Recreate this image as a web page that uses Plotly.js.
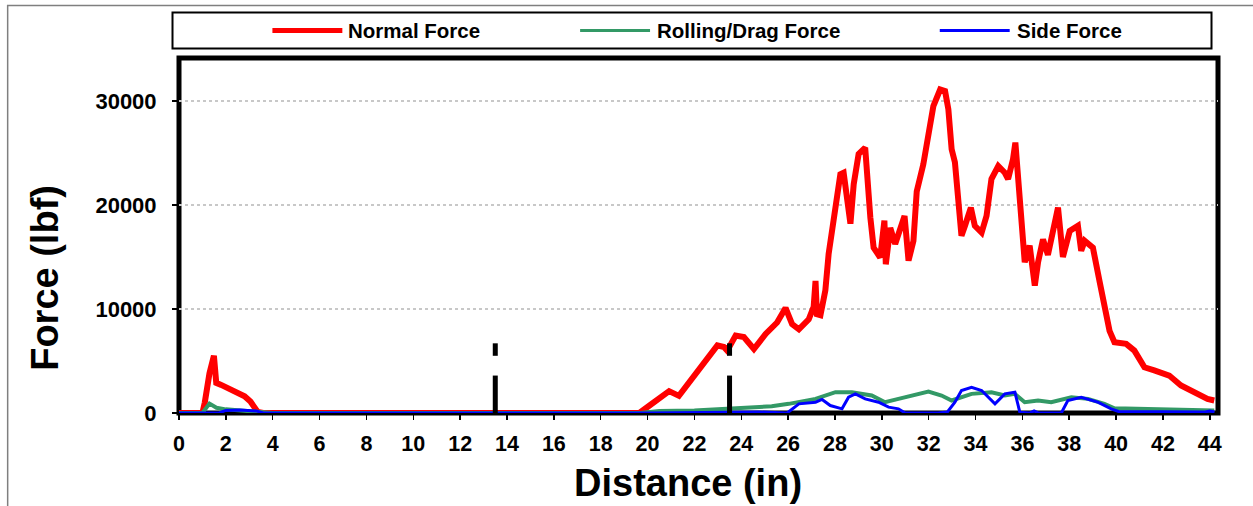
<!DOCTYPE html>
<html>
<head>
<meta charset="utf-8">
<script src="https://cdn.plot.ly/plotly-3.0.1.min.js"></script>
<style>html,body{margin:0;padding:0;background:#fff;}#chart{width:1253px;height:506px;}</style>
</head>
<body>
<div id="chart"></div>
<script>
// ---- data ----
const seriesNames = ["Normal Force", "Rolling/Drag Force", "Side Force"];
const xTitle = "Distance (in)";
const yTitle = "Force (lbf)";

const normalX = [0, 1.0, 1.1, 1.3, 1.49, 1.59, 1.8, 2.1, 2.48, 2.8, 3.05, 3.2, 3.36, 3.6, 19.65, 20.07, 20.5, 20.92, 21.34, 21.77, 22.19, 22.62, 22.98, 23.26, 23.4, 23.76, 24.11, 24.54, 25.04, 25.53, 25.89, 26.17, 26.46, 26.88, 27.02, 27.09, 27.17, 27.23, 27.38, 27.59, 27.73, 27.87, 28.02, 28.23, 28.37, 28.51, 28.66, 28.8, 29.01, 29.29, 29.36, 29.51, 29.65, 29.93, 30.11, 30.17, 30.36, 30.57, 30.97, 31.14, 31.35, 31.49, 31.77, 31.99, 32.2, 32.49, 32.7, 32.84, 32.98, 33.12, 33.26, 33.4, 33.55, 33.8, 33.97, 34.26, 34.47, 34.68, 34.97, 35.25, 35.39, 35.6, 35.7, 35.82, 35.89, 36.03, 36.1, 36.31, 36.53, 36.67, 36.88, 37.09, 37.31, 37.52, 37.73, 38.02, 38.37, 38.51, 38.66, 39.01, 39.29, 39.51, 39.72, 39.93, 40.43, 40.78, 41.21, 41.63, 42.27, 42.77, 43.34, 43.9, 44.19];
const normalForce = [0, 0, 1000, 3800, 5500, 2900, 2700, 2400, 2000, 1600, 1100, 700, 100, 0, 0, 700, 1350, 2100, 1650, 2950, 4250, 5350, 6500, 6350, 6000, 7450, 7300, 6150, 7600, 8700, 10100, 8550, 8050, 9000, 9800, 10200, 12700, 9500, 9400, 11800, 15300, 17200, 19800, 22950, 23100, 21000, 18200, 22000, 24900, 25500, 23000, 18800, 15900, 14950, 18500, 14300, 17800, 16250, 18950, 14650, 16550, 21300, 23900, 26800, 29500, 31100, 30950, 29200, 25350, 24100, 20250, 17050, 18000, 19750, 18000, 17350, 18950, 22500, 23750, 23100, 22500, 24400, 26000, 22800, 19300, 16400, 14500, 16100, 12250, 14500, 16700, 15200, 17700, 19750, 15000, 17500, 18000, 15600, 16550, 15900, 12700, 10500, 7900, 6800, 6650, 6000, 4400, 4100, 3600, 2650, 2000, 1350, 1200];

const rollingX = [0, 1.0, 1.3, 1.6, 2.0, 2.5, 3.0, 3.5, 4.0, 19.7, 20.5, 22.0, 23.6, 25.3, 26.03, 27.17, 28.02, 28.72, 29.57, 30.14, 30.71, 31.28, 31.99, 32.55, 32.98, 33.83, 34.68, 35.25, 35.68, 36.1, 36.67, 37.23, 38.09, 38.8, 39.5, 39.93, 41.63, 43.05, 44.19];
const rollingForce = [0, 0, 900, 500, 350, 250, 200, 50, 0, 0, 200, 250, 450, 650, 880, 1360, 2000, 2000, 1680, 1040, 1360, 1680, 2060, 1680, 1200, 1840, 2000, 1680, 1840, 1040, 1200, 1040, 1520, 1360, 880, 460, 400, 300, 240];

const sideX = [0, 1.7, 2.0, 2.6, 3.3, 3.6, 20.0, 24.75, 25.96, 26.46, 27.17, 27.45, 27.8, 28.3, 28.58, 28.87, 29.29, 29.86, 30.29, 30.71, 31.0, 32.4, 32.8, 33.12, 33.4, 33.83, 34.26, 34.83, 35.25, 35.68, 35.89, 36.3, 36.5, 36.7, 37.66, 37.94, 38.51, 39.22, 39.79, 40.1, 43.8, 44.0, 44.2];
const sideForce = [0, 0, 250, 300, 200, 0, 0, 100, 0, 880, 1040, 1300, 720, 400, 1520, 1840, 1360, 1040, 560, 400, 0, 0, 100, 1040, 2160, 2480, 2160, 880, 1840, 2000, 80, 0, 200, 0, 0, 1200, 1520, 1040, 400, 150, 100, 200, 100];

// dashed black marker lines
const markerX = [13.5, 23.5];
const markerLowSeg = [0, 3600];
const markerHighSeg = [5500, 6700];

const xTickVals = [0,2,4,6,8,10,12,14,16,18,20,22,24,26,28,30,32,34,36,38,40,42,44];
const yTickVals = [0, 10000, 20000, 30000];

// ---- layout geometry (pixels) ----
const W = 1253, H = 506;
const mL = 178.5, mR = 34.5, mT = 57.5, mB = 93;
const pw = W - mL - mR, ph = H - mT - mB;
const px2x = p => (p - mL) / pw;
const py2y = p => (H - mB - p) / ph;

const FONT = "Liberation Sans, Arial, sans-serif";
const colors = ["#ff0000", "#339966", "#0000ff"];

// build marker trace
const mkX = [], mkY = [];
markerX.forEach(x => {
  mkX.push(x, x, null, x, x, null);
  mkY.push(markerLowSeg[0], markerLowSeg[1], null, markerHighSeg[0], markerHighSeg[1], null);
});

const traces = [
  {x: normalX, y: normalForce, type: "scatter", mode: "lines", name: seriesNames[0], line: {color: colors[0], width: 6}},
  {x: rollingX, y: rollingForce, type: "scatter", mode: "lines", name: seriesNames[1], line: {color: colors[1], width: 4}},
  {x: sideX, y: sideForce, type: "scatter", mode: "lines", name: seriesNames[2], line: {color: colors[2], width: 3}},
  {x: mkX, y: mkY, type: "scatter", mode: "lines", name: "marker", showlegend: false, line: {color: "#000", width: 5}, hoverinfo: "skip"}
];

// manual legend (Excel style)
const legY = py2y(30);
const legItems = [
  {x0: 272, x1: 342, tx: 346, w: 5},
  {x0: 580, x1: 650, tx: 655, w: 3},
  {x0: 940, x1: 1010, tx: 1015, w: 3}
];
const shapes = [
  {type: "rect", xref: "paper", yref: "paper", x0: px2x(7), x1: px2x(1262), y0: py2y(520), y1: py2y(5), line: {color: "#7f7f7f", width: 1.5}, layer: "below"},
  {type: "rect", xref: "paper", yref: "paper", x0: px2x(172), x1: px2x(1212), y0: py2y(48), y1: py2y(12), line: {color: "#000", width: 2}},
  {type: "rect", xref: "paper", yref: "paper", x0: 0, x1: 1, y0: 0, y1: 1, line: {color: "#000", width: 5}, layer: "below"}
];
const annotations = [];
legItems.forEach((it, i) => {
  shapes.push({type: "line", xref: "paper", yref: "paper", x0: px2x(it.x0), x1: px2x(it.x1), y0: legY, y1: legY, line: {color: colors[i], width: it.w}});
  annotations.push({xref: "paper", yref: "paper", x: px2x(it.tx), y: legY, xanchor: "left", yanchor: "middle", showarrow: false,
    text: seriesNames[i], font: {family: FONT, size: 20.5, color: "#000", weight: "bold"}});
});
// axis titles (placed like the reference, which is off-centre)
annotations.push({xref: "paper", yref: "paper", x: px2x(688), y: py2y(483), xanchor: "center", yanchor: "middle", showarrow: false,
  text: xTitle, font: {family: FONT, size: 38, color: "#000", weight: "bold"}});
annotations.push({xref: "paper", yref: "paper", x: px2x(45), y: py2y(278), xanchor: "center", yanchor: "middle", showarrow: false, textangle: -90,
  text: yTitle, font: {family: FONT, size: 38, color: "#000", weight: "bold"}});

const layout = {
  width: W, height: H,
  margin: {l: mL, r: mR, t: mT, b: mB, pad: 0},
  paper_bgcolor: "#fff", plot_bgcolor: "rgba(0,0,0,0)",
  showlegend: false,
  xaxis: {
    range: [0, pw / 23.45], tickvals: xTickVals, ticks: "outside", ticklen: 6, tickwidth: 1.5, tickcolor: "#000",
    showgrid: false, zeroline: false, showline: false,
    tickfont: {family: FONT, size: 21.5, color: "#000", weight: "bold"}, ticklabelstandoff: 5,
    fixedrange: true
  },
  yaxis: {
    range: [0, ph / 0.010415], tickvals: yTickVals, tickformat: "d", ticks: "outside", ticklen: 6, tickwidth: 1.5, tickcolor: "#000",
    showgrid: true, gridcolor: "#c8c8c8", griddash: "dot", gridwidth: 1.5, zeroline: false, showline: false,
    tickfont: {family: FONT, size: 22, color: "#000", weight: "bold"}, ticklabelstandoff: 11,
    fixedrange: true
  },
  shapes: shapes,
  annotations: annotations
};

Plotly.newPlot("chart", traces, layout, {staticPlot: true, displayModeBar: false});
</script>
</body>
</html>
